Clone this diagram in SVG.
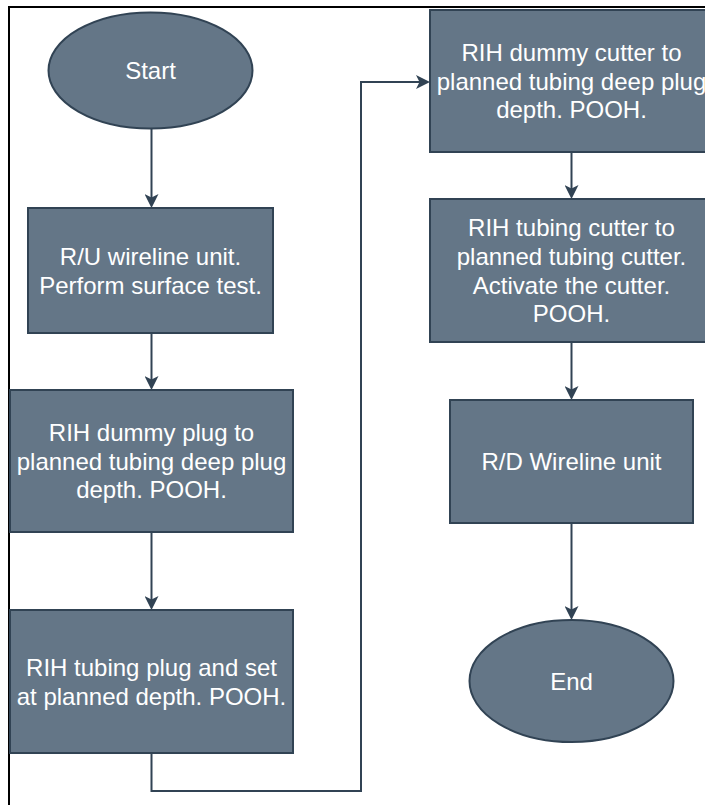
<svg xmlns="http://www.w3.org/2000/svg" width="705" height="805" viewBox="0 0 705 805">
  <style>
    .node { fill: #647687; stroke: #314354; stroke-width: 2; }
    .label { font-family: "Liberation Sans", Arial, sans-serif; font-size: 24px; fill: #ffffff; text-anchor: middle; }
    .edge { fill: none; stroke: #314354; stroke-width: 2; }
    .frame { fill: none; stroke: #000000; stroke-width: 2; }
  </style>
  <defs>
    <marker id="arrow" markerUnits="userSpaceOnUse" markerWidth="14" markerHeight="14" refX="11" refY="7" orient="auto">
      <path d="M0,0 L14,7 L0,14 L3.5,7 Z" fill="#314354"/>
    </marker>
  </defs>

  <rect width="705" height="805" fill="#ffffff"/>

  <!-- page frame -->
  <path class="frame" d="M9,805 V7 H705"/>

  <!-- connectors -->
  <g id="connectors">
    <path class="edge" marker-end="url(#arrow)" d="M151.5,128 V205"/>
    <path class="edge" marker-end="url(#arrow)" d="M151.5,333 V387"/>
    <path class="edge" marker-end="url(#arrow)" d="M151.5,532 V607"/>
    <path class="edge" marker-end="url(#arrow)" d="M151.5,753 V791 H361 V82 H427"/>
    <path class="edge" marker-end="url(#arrow)" d="M571.5,152 V196"/>
    <path class="edge" marker-end="url(#arrow)" d="M571.5,342 V397"/>
    <path class="edge" marker-end="url(#arrow)" d="M571.5,523 V617"/>
  </g>

  <!-- left column -->
  <g id="start">
    <ellipse class="node" cx="150.5" cy="70.5" rx="102" ry="58"/>
    <text class="label" x="150.5" y="79">Start</text>
  </g>

  <g id="rig-up">
    <rect class="node" x="28" y="208" width="245" height="125"/>
    <text class="label" x="150.5" y="264.7">R/U wireline unit.</text>
    <text class="label" x="150.5" y="293.5">Perform surface test.</text>
  </g>

  <g id="dummy-plug">
    <rect class="node" x="10" y="390" width="283" height="142"/>
    <text class="label" x="151.5" y="440.8">RIH dummy plug to</text>
    <text class="label" x="151.5" y="469.6">planned tubing deep plug</text>
    <text class="label" x="151.5" y="498.4">depth. POOH.</text>
  </g>

  <g id="tubing-plug">
    <rect class="node" x="10" y="610" width="283" height="143"/>
    <text class="label" x="151.5" y="675.7">RIH tubing plug and set</text>
    <text class="label" x="151.5" y="704.5">at planned depth. POOH.</text>
  </g>

  <!-- right column -->
  <g id="dummy-cutter">
    <rect class="node" x="430" y="10" width="283" height="142"/>
    <text class="label" x="571.5" y="60.8">RIH dummy cutter to</text>
    <text class="label" x="571.5" y="89.6">planned tubing deep plug</text>
    <text class="label" x="571.5" y="118.4">depth. POOH.</text>
  </g>

  <g id="tubing-cutter">
    <rect class="node" x="430" y="199" width="283" height="143"/>
    <text class="label" x="571.5" y="235.9">RIH tubing cutter to</text>
    <text class="label" x="571.5" y="264.7">planned tubing cutter.</text>
    <text class="label" x="571.5" y="293.5">Activate the cutter.</text>
    <text class="label" x="571.5" y="322.3">POOH.</text>
  </g>

  <g id="rig-down">
    <rect class="node" x="450" y="400" width="243" height="123"/>
    <text class="label" x="571.5" y="470">R/D Wireline unit</text>
  </g>

  <g id="end">
    <ellipse class="node" cx="571.5" cy="681" rx="102" ry="61"/>
    <text class="label" x="571.5" y="689.5">End</text>
  </g>
</svg>
